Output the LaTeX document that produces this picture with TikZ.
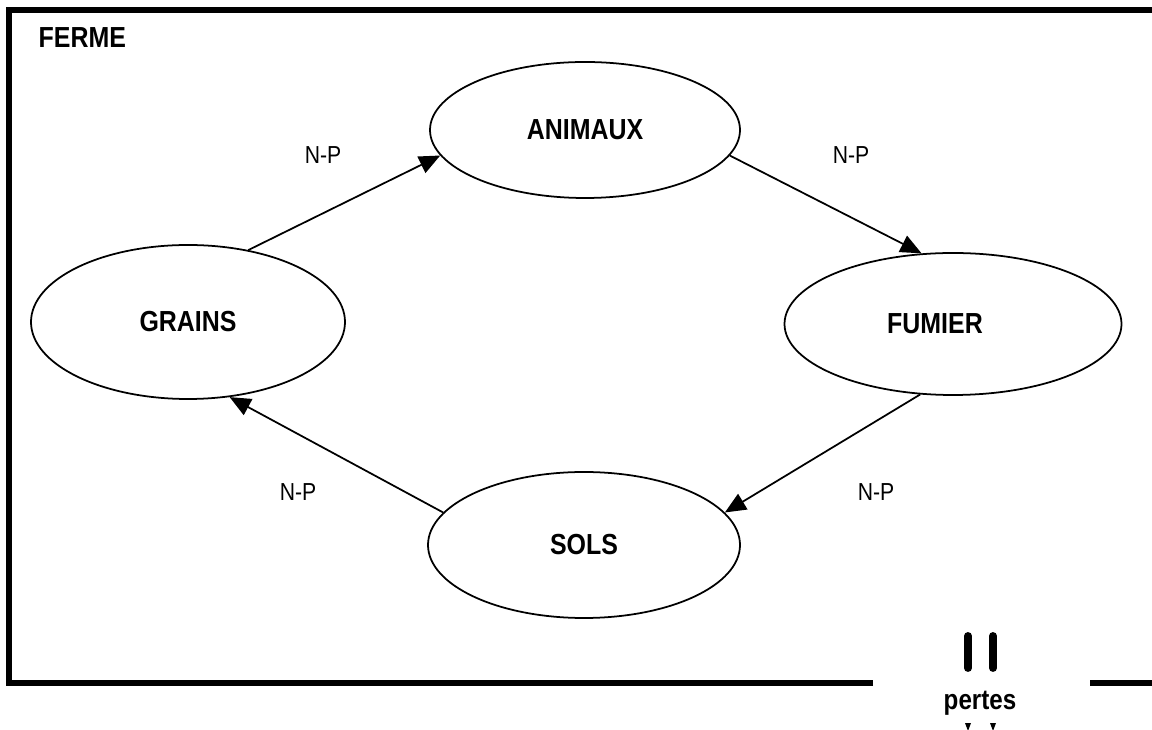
\documentclass[tikz,border=0pt]{standalone}
\usepackage{fontspec}
\setsansfont{Liberation Sans}[FakeStretch=0.86]
\usetikzlibrary{arrows.meta, shapes.geometric}

\begin{document}
\begin{tikzpicture}[
    line width=1pt,
    >={Triangle[length=0.42cm, width=0.36cm]},
    font=\sffamily,
    pool/.style={draw, ellipse, inner sep=0pt, font=\sffamily\bfseries\fontsize{16.5}{18}\selectfont},
    flux/.style={font=\sffamily\fontsize{14}{16}\selectfont}
]
    \useasboundingbox (0,0) rectangle (23.04,14.58);

    % Farm boundary
    \draw[line width=3.4pt] (17.46,0.92) -- (0.18,0.92) -- (0.18,14.38) -- (23.3,14.38);
    \draw[line width=3.4pt] (21.8,0.92) -- (23.3,0.92);
    \node[anchor=west, font=\sffamily\bfseries\fontsize{16.5}{18}\selectfont] (ferme) at (0.64,13.82) {FERME};

    % Pools
    \node[pool, minimum width=6.2cm, minimum height=2.72cm] (animaux) at (11.70,11.98) {ANIMAUX};
    \node[pool, minimum width=6.28cm, minimum height=3.08cm] (grains) at (3.76,8.14) {GRAINS};
    \node[pool, minimum width=6.74cm, minimum height=2.84cm] (fumier) at (19.06,8.10) {\hspace*{-0.72cm}FUMIER};
    \node[pool, minimum width=6.24cm, minimum height=2.92cm] (sols) at (11.68,3.68) {SOLS};

    % Flows
    \draw[->] (grains.50) -- (animaux.190);
    \draw[->] (animaux.-10) -- (fumier.114);
    \draw[->] (fumier.245) -- (sols.13);
    \draw[->] (sols.167) -- (grains.-61);

    % Flow labels
    \node[flux] (np1) at (6.46,11.48) {N-P};
    \node[flux] (np2) at (17.02,11.48) {N-P};
    \node[flux] (np3) at (17.52,4.74) {N-P};
    \node[flux] (np4) at (5.96,4.74) {N-P};

    % Losses
    \node[font=\sffamily\bfseries\fontsize{16}{18}\selectfont] (pertes) at (19.6,0.52) {pertes};
    \draw[line width=4.5pt, line cap=round] (19.36,1.22) -- (19.36,1.86);
    \draw[line width=4.5pt, line cap=round] (19.86,1.22) -- (19.86,1.86);
    \fill (19.30,0.12) -- (19.42,0.12) -- (19.36,-0.04) -- cycle;
    \fill (19.80,0.12) -- (19.92,0.12) -- (19.86,-0.04) -- cycle;

\end{tikzpicture}
\end{document}
